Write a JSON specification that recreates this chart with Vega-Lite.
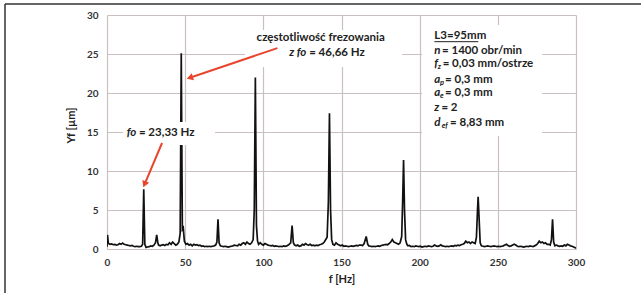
{
  "$schema": "https://vega.github.io/schema/vega-lite/v6.json",
  "width": 469,
  "height": 234,
  "autosize": "none",
  "padding": {"left": 107, "top": 15, "right": 65, "bottom": 44},
  "background": "white",
  "config": {
    "view": {"stroke": null},
    "font": "Lato",
    "axis": {
      "grid": true,
      "gridColor": "#cbbfbf",
      "gridWidth": 1.2,
      "domain": false,
      "ticks": false,
      "labelFlush": false,
      "labelFont": "Lato",
      "labelFontWeight": "bold",
      "labelFontSize": 10,
      "labelColor": "#333333",
      "titleFont": "Lato",
      "titleFontWeight": "bold",
      "titleFontSize": 11,
      "titleColor": "#222222"
    }
  },
  "encoding": {
    "x": {"field": "f", "type": "quantitative", "scale": {"domain": [0, 300], "nice": false, "zero": false},
          "axis": {"values": [0, 50, 100, 150, 200, 250, 300], "title": "f [Hz]", "labelPadding": 8, "titlePadding": 6}},
    "y": {"field": "y", "type": "quantitative", "scale": {"domain": [0, 30], "nice": false},
          "axis": {"values": [0, 5, 10, 15, 20, 25, 30], "title": "Yf [µm]", "labelPadding": 9, "titleX": -31, "titleY": 110}}
  },
  "datasets": {
    "spectrum": [
      {"f":0,"y":0.3},{"f":0.3,"y":1.8},{"f":0.9,"y":0.7},{"f":2,"y":0.6},{"f":3,"y":0.65},{"f":4,"y":0.55},{"f":5,"y":0.6},{"f":6,"y":0.5},{"f":7,"y":0.55},{"f":8,"y":0.7},{"f":9,"y":0.6},{"f":10,"y":0.75},{"f":11,"y":0.6},{"f":12,"y":0.55},{"f":13,"y":0.5},{"f":14,"y":0.45},{"f":15,"y":0.4},{"f":16,"y":0.45},{"f":17,"y":0.35},{"f":18,"y":0.3},{"f":19,"y":0.35},{"f":20,"y":0.3},{"f":21,"y":0.3},{"f":22,"y":0.35},{"f":22.8,"y":0.6},{"f":23.5,"y":7.65},{"f":24.2,"y":0.6},{"f":25,"y":0.2},{"f":26,"y":0.25},{"f":27,"y":0.3},{"f":28,"y":0.4},{"f":29,"y":0.35},{"f":30,"y":0.5},{"f":31,"y":0.8},{"f":31.8,"y":1.8},{"f":32.5,"y":0.8},{"f":33,"y":0.5},{"f":34,"y":0.4},{"f":35,"y":0.5},{"f":36,"y":0.55},{"f":37,"y":0.45},{"f":38,"y":0.6},{"f":39,"y":0.55},{"f":40,"y":0.8},{"f":41,"y":0.6},{"f":42,"y":0.9},{"f":43,"y":0.7},{"f":44,"y":0.5},{"f":45,"y":0.6},{"f":46,"y":0.9},{"f":46.8,"y":2.0},{"f":47.5,"y":25.1},{"f":48.2,"y":2.5},{"f":48.8,"y":2.7},{"f":49.5,"y":1.0},{"f":50.5,"y":0.6},{"f":51.5,"y":0.7},{"f":52.5,"y":0.5},{"f":53.5,"y":0.6},{"f":54.5,"y":0.4},{"f":55.5,"y":0.6},{"f":56.5,"y":0.5},{"f":57.5,"y":0.55},{"f":58.5,"y":0.45},{"f":59.5,"y":0.5},{"f":60.5,"y":0.35},{"f":61.5,"y":0.4},{"f":62.5,"y":0.3},{"f":63.5,"y":0.35},{"f":64.5,"y":0.3},{"f":65.5,"y":0.35},{"f":66.5,"y":0.3},{"f":67.5,"y":0.35},{"f":68.5,"y":0.4},{"f":69.5,"y":0.5},{"f":70.3,"y":0.9},{"f":71,"y":3.8},{"f":71.7,"y":0.8},{"f":72.5,"y":0.4},{"f":73.5,"y":0.35},{"f":74.5,"y":0.3},{"f":75.5,"y":0.35},{"f":76.5,"y":0.3},{"f":77.5,"y":0.25},{"f":78.5,"y":0.3},{"f":79.5,"y":0.35},{"f":80.5,"y":0.4},{"f":81.5,"y":0.5},{"f":82.5,"y":0.45},{"f":83.5,"y":0.4},{"f":84.5,"y":0.6},{"f":85.5,"y":0.5},{"f":86.5,"y":0.7},{"f":87.5,"y":0.8},{"f":88.5,"y":0.6},{"f":89.5,"y":0.9},{"f":90.5,"y":0.7},{"f":91.5,"y":0.6},{"f":92.5,"y":0.8},{"f":93.5,"y":1.2},{"f":94.2,"y":5},{"f":94.9,"y":22.0},{"f":95.6,"y":3},{"f":96.3,"y":1.0},{"f":97,"y":0.6},{"f":98,"y":0.8},{"f":99,"y":0.6},{"f":100,"y":0.5},{"f":101,"y":0.7},{"f":102,"y":0.6},{"f":103,"y":0.5},{"f":104,"y":0.45},{"f":105,"y":0.4},{"f":106,"y":0.45},{"f":107,"y":0.35},{"f":108,"y":0.4},{"f":109,"y":0.35},{"f":110,"y":0.3},{"f":111,"y":0.35},{"f":112,"y":0.3},{"f":113,"y":0.4},{"f":114,"y":0.35},{"f":115,"y":0.4},{"f":116,"y":0.5},{"f":117.5,"y":0.8},{"f":118.4,"y":3.0},{"f":119.2,"y":0.8},{"f":120,"y":0.5},{"f":121,"y":0.4},{"f":122,"y":0.5},{"f":123,"y":0.35},{"f":124,"y":0.4},{"f":125,"y":0.6},{"f":126,"y":0.5},{"f":127,"y":0.7},{"f":128,"y":0.55},{"f":129,"y":0.5},{"f":130,"y":0.6},{"f":131,"y":0.45},{"f":132,"y":0.5},{"f":133,"y":0.4},{"f":134,"y":0.5},{"f":135,"y":0.45},{"f":136,"y":0.55},{"f":137,"y":0.6},{"f":138,"y":0.7},{"f":139,"y":0.9},{"f":140.8,"y":1.5},{"f":141.6,"y":6},{"f":142.3,"y":17.4},{"f":143,"y":5},{"f":143.7,"y":1.2},{"f":144.5,"y":0.6},{"f":145.5,"y":0.5},{"f":146.5,"y":0.8},{"f":147.5,"y":0.6},{"f":148.5,"y":0.5},{"f":149.5,"y":0.4},{"f":150.5,"y":0.5},{"f":151.5,"y":0.35},{"f":152.5,"y":0.4},{"f":153.5,"y":0.35},{"f":154.5,"y":0.3},{"f":155.5,"y":0.35},{"f":156.5,"y":0.4},{"f":157.5,"y":0.35},{"f":158.5,"y":0.4},{"f":159.5,"y":0.45},{"f":160.5,"y":0.4},{"f":161.5,"y":0.5},{"f":162.5,"y":0.5},{"f":163.5,"y":0.45},{"f":164.5,"y":0.7},{"f":165.8,"y":1.6},{"f":166.8,"y":0.6},{"f":167.5,"y":0.4},{"f":168.5,"y":0.35},{"f":169.5,"y":0.3},{"f":170.5,"y":0.35},{"f":171.5,"y":0.3},{"f":172.5,"y":0.35},{"f":173.5,"y":0.4},{"f":174.5,"y":0.35},{"f":175.5,"y":0.45},{"f":176.5,"y":0.5},{"f":177.5,"y":0.55},{"f":178.5,"y":0.6},{"f":179.5,"y":0.55},{"f":180.5,"y":0.7},{"f":181.5,"y":0.9},{"f":182.5,"y":1.2},{"f":183.5,"y":0.9},{"f":184.5,"y":0.8},{"f":185.5,"y":0.7},{"f":186.5,"y":0.6},{"f":187.5,"y":0.8},{"f":188.5,"y":1.6},{"f":189.1,"y":6},{"f":189.7,"y":11.4},{"f":190.3,"y":5},{"f":191,"y":1.2},{"f":191.8,"y":0.6},{"f":192.5,"y":0.4},{"f":193.5,"y":0.45},{"f":194.5,"y":0.3},{"f":195.5,"y":0.35},{"f":196.5,"y":0.3},{"f":197.5,"y":0.4},{"f":198.5,"y":0.35},{"f":199.5,"y":0.3},{"f":200.5,"y":0.35},{"f":201.5,"y":0.25},{"f":202.5,"y":0.3},{"f":203.5,"y":0.35},{"f":204.5,"y":0.3},{"f":205.5,"y":0.4},{"f":206.5,"y":0.35},{"f":207.5,"y":0.3},{"f":208.5,"y":0.35},{"f":209.5,"y":0.5},{"f":210.5,"y":0.4},{"f":211.5,"y":0.35},{"f":212.5,"y":0.4},{"f":213.5,"y":0.55},{"f":214.5,"y":0.4},{"f":215.5,"y":0.35},{"f":216.5,"y":0.3},{"f":217.5,"y":0.35},{"f":218.5,"y":0.3},{"f":219.5,"y":0.35},{"f":220.5,"y":0.4},{"f":221.5,"y":0.35},{"f":222.5,"y":0.45},{"f":223.5,"y":0.4},{"f":224.5,"y":0.5},{"f":225.5,"y":0.45},{"f":226.5,"y":0.55},{"f":227.5,"y":0.6},{"f":228.5,"y":0.7},{"f":229.5,"y":1.0},{"f":230.5,"y":0.8},{"f":231.5,"y":0.9},{"f":232.5,"y":0.7},{"f":233.5,"y":0.9},{"f":234.5,"y":0.8},{"f":235.5,"y":0.7},{"f":236.3,"y":1.5},{"f":237,"y":5},{"f":237.4,"y":6.7},{"f":238,"y":4},{"f":238.7,"y":0.8},{"f":239.5,"y":0.4},{"f":240.5,"y":0.35},{"f":241.5,"y":0.3},{"f":242.5,"y":0.35},{"f":243.5,"y":0.4},{"f":244.5,"y":0.35},{"f":245.5,"y":0.3},{"f":246.5,"y":0.35},{"f":247.5,"y":0.4},{"f":248.5,"y":0.35},{"f":249.5,"y":0.3},{"f":250.5,"y":0.35},{"f":251.5,"y":0.3},{"f":252.5,"y":0.35},{"f":253.5,"y":0.4},{"f":254.5,"y":0.5},{"f":255.5,"y":0.6},{"f":256.5,"y":0.45},{"f":257.5,"y":0.35},{"f":258.5,"y":0.4},{"f":259.5,"y":0.5},{"f":260.5,"y":0.6},{"f":261.5,"y":0.5},{"f":262.5,"y":0.35},{"f":263.5,"y":0.3},{"f":264.5,"y":0.35},{"f":265.5,"y":0.3},{"f":266.5,"y":0.25},{"f":267.5,"y":0.3},{"f":268.5,"y":0.35},{"f":269.5,"y":0.3},{"f":270.5,"y":0.4},{"f":271.5,"y":0.35},{"f":272.5,"y":0.3},{"f":273.5,"y":0.4},{"f":274.5,"y":0.5},{"f":275.5,"y":0.7},{"f":276.5,"y":1.0},{"f":277.5,"y":0.8},{"f":278.5,"y":0.9},{"f":279.5,"y":0.7},{"f":280.5,"y":0.8},{"f":281.5,"y":0.6},{"f":282.5,"y":0.6},{"f":283.5,"y":0.5},{"f":284.3,"y":1.2},{"f":285,"y":3.8},{"f":285.7,"y":0.9},{"f":286.5,"y":0.4},{"f":287.5,"y":0.5},{"f":288.5,"y":0.4},{"f":289.5,"y":0.35},{"f":290.5,"y":0.4},{"f":291.5,"y":0.35},{"f":292.5,"y":0.5},{"f":293.5,"y":0.4},{"f":294.5,"y":0.6},{"f":295.5,"y":0.5},{"f":296.5,"y":0.4},{"f":297.5,"y":0.35},{"f":298.5,"y":0.25},{"f":299.5,"y":0.15},{"f":300,"y":0.1}
    ],
    "boxes": [
      {"f": 88.3, "f2": 188.7, "y": 28.08, "y2": 23.33},
      {"f": 10.2, "f2": 69.1, "y": 16.28, "y2": 13.33},
      {"f": 201.5, "f2": 278.3, "y": 28.72, "y2": 14.49}
    ],
    "upright": [
      {"f": 209.4, "y": 27.31, "t": "L3=95mm"},
      {"f": 214.3, "y": 25.42, "t": "= 1400 obr/min"},
      {"f": 214.7, "y": 23.68, "t": "= 0,03 mm/ostrze"},
      {"f": 216.2, "y": 21.67, "t": "= 0,3 mm"},
      {"f": 216.2, "y": 19.96, "t": "= 0,3 mm"},
      {"f": 213.9, "y": 18.04, "t": "= 2"},
      {"f": 219.4, "y": 16.12, "t": "= 8,83 mm"},
      {"f": 95.7, "y": 27.05, "t": "częstotliwość frezowania"},
      {"f": 129.3, "y": 25.13, "t": "= 46,66 Hz"},
      {"f": 20.4, "y": 14.83, "t": "= 23,33 Hz"}
    ],
    "italic": [
      {"f": 209.4, "y": 25.42, "t": "n"},
      {"f": 209.4, "y": 23.68, "t": "f"},
      {"f": 209.4, "y": 21.67, "t": "a"},
      {"f": 209.4, "y": 19.96, "t": "a"},
      {"f": 209.4, "y": 18.04, "t": "z"},
      {"f": 209.4, "y": 16.12, "t": "d"},
      {"f": 116.5, "y": 25.13, "t": "z fo"},
      {"f": 12.6, "y": 14.83, "t": "fo"}
    ],
    "subs": [
      {"f": 211.5, "y": 23.68, "t": "z"},
      {"f": 213.0, "y": 21.67, "t": "p"},
      {"f": 213.0, "y": 19.96, "t": "e"},
      {"f": 214.1, "y": 16.12, "t": "ef"}
    ],
    "underline": [{"f": 209.4, "f2": 237.5, "y": 26.58}],
    "arrows": [
      {"f": 109.0, "y": 25.75, "f2": 52.97, "y2": 21.95},
      {"f": 35.2, "y": 13.59, "f2": 24.03, "y2": 8.29}
    ],
    "head1": [{"f": 52.97, "y": 21.95}],
    "head2": [{"f": 24.03, "y": 8.29}]
  },
  "layer": [
    {
      "data": {"name": "spectrum"},
      "mark": {"type": "line", "color": "#111111", "strokeWidth": 1.7, "clip": true}
    },
    {
      "data": {"name": "boxes"},
      "mark": {"type": "rect", "color": "white"},
      "encoding": {"x2": {"field": "f2"}, "y2": {"field": "y2"}}
    },
    {
      "data": {"name": "upright"},
      "mark": {"type": "text", "align": "left", "baseline": "middle", "font": "Lato", "fontWeight": "bold", "fontSize": 11.5, "color": "#222222"},
      "encoding": {"text": {"field": "t"}}
    },
    {
      "data": {"name": "italic"},
      "mark": {"type": "text", "align": "left", "baseline": "middle", "font": "Lato", "fontWeight": "bold", "fontStyle": "italic", "fontSize": 11.5, "color": "#222222"},
      "encoding": {"text": {"field": "t"}}
    },
    {
      "data": {"name": "subs"},
      "mark": {"type": "text", "align": "left", "baseline": "middle", "dy": 3, "font": "Lato", "fontWeight": "bold", "fontStyle": "italic", "fontSize": 7.5, "color": "#222222"},
      "encoding": {"text": {"field": "t"}}
    },
    {
      "data": {"name": "underline"},
      "mark": {"type": "rule", "color": "#222222", "strokeWidth": 1},
      "encoding": {"x2": {"field": "f2"}}
    },
    {
      "data": {"name": "arrows"},
      "mark": {"type": "rule", "color": "#e8452c", "strokeWidth": 2},
      "encoding": {"x2": {"field": "f2"}, "y2": {"field": "y2"}}
    },
    {
      "data": {"name": "head1"},
      "mark": {"type": "point", "shape": "triangle-up", "filled": true, "color": "#e8452c", "size": 55, "angle": 252, "opacity": 1}
    },
    {
      "data": {"name": "head2"},
      "mark": {"type": "point", "shape": "triangle-up", "filled": true, "color": "#e8452c", "size": 55, "angle": 203, "opacity": 1}
    },
    {
      "data": {"values": [{}]},
      "mark": {"type": "rule", "color": "#333333", "strokeWidth": 1.5, "clip": false},
      "encoding": {
        "x": {"value": -102},
        "y": {"value": -11},
        "y2": {"value": 278}
      }
    },
    {
      "data": {"values": [{}]},
      "mark": {"type": "rule", "color": "#333333", "strokeWidth": 1.5, "clip": false},
      "encoding": {
        "x": {"value": -102},
        "x2": {"value": 534},
        "y": {"value": -11}
      }
    }
  ]
}
